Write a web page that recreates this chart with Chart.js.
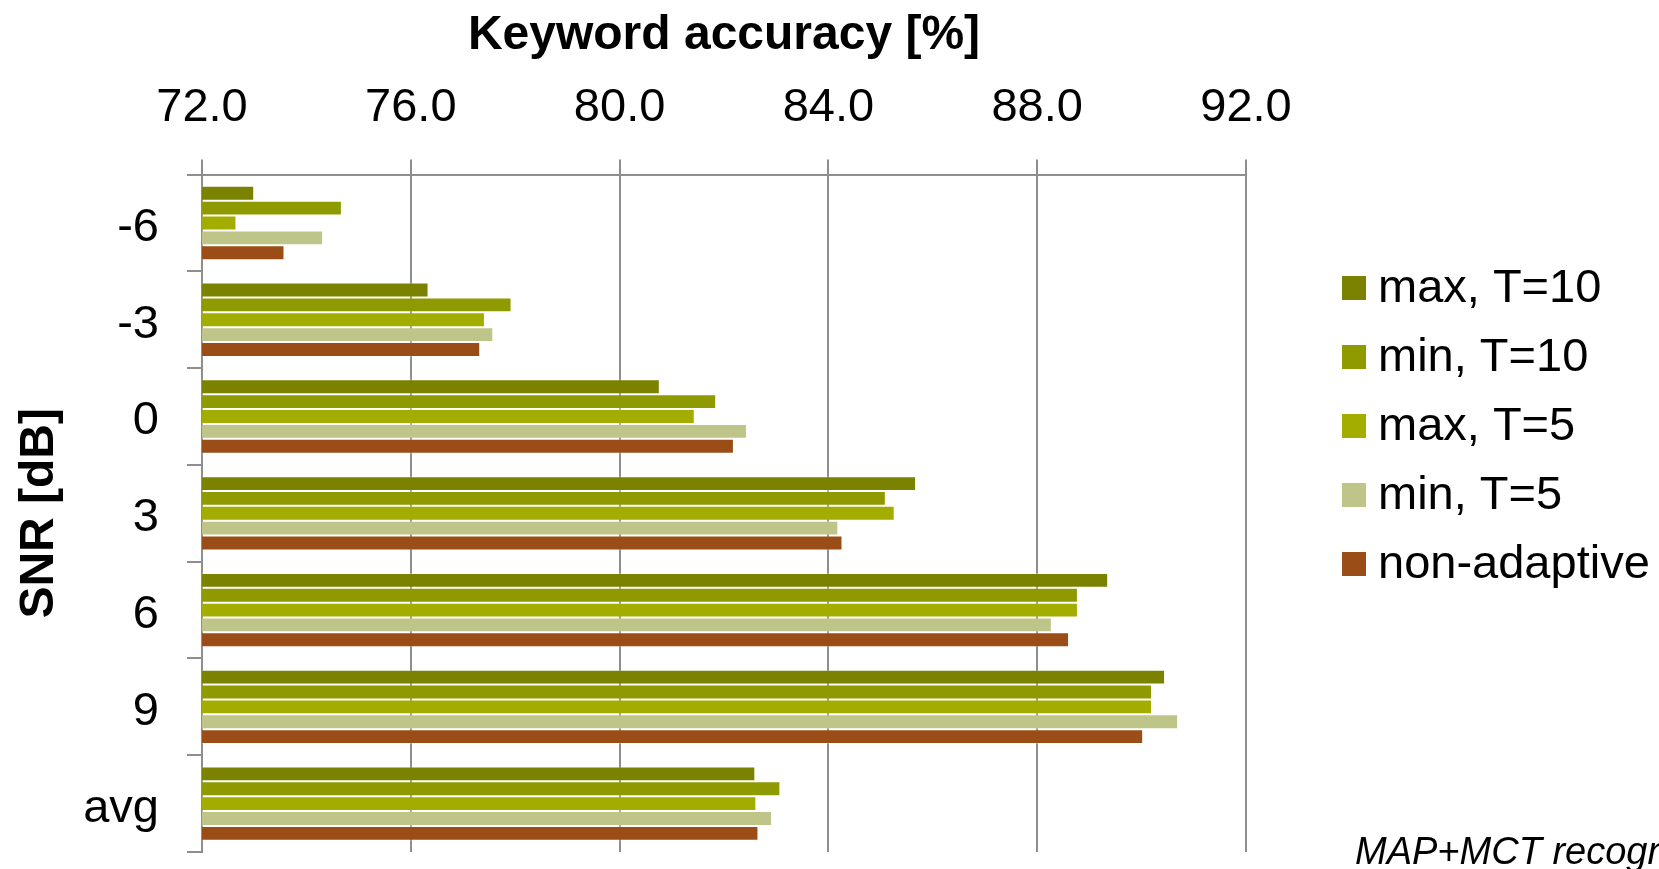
<!DOCTYPE html>
<html>
<head>
<meta charset="utf-8">
<title>Keyword accuracy</title>
<script src="https://cdn.jsdelivr.net/npm/chart.js@4.4.1/dist/chart.umd.min.js"></script>
<style>
  html, body { margin: 0; padding: 0; background: #fff; }
  #wrap { width: 1659px; height: 869px; position: relative; }
</style>
</head>
<body>
<div id="wrap"><canvas id="accChart"></canvas></div>
<script>
// SNR conditions (top to bottom)
var snrLabels = ['-6', '-3', '0', '3', '6', '9', 'avg'];

// keyword accuracy [%] per adaptation setting
var maxT10 = [73.0, 76.34, 80.77, 85.68, 89.36, 90.45, 82.60];
var minT10 = [74.68, 77.93, 81.85, 85.10, 88.78, 90.20, 83.08];
var maxT5 = [72.66, 77.42, 81.44, 85.27, 88.78, 90.20, 82.62];
var minT5 = [74.32, 77.58, 82.44, 84.19, 88.28, 90.70, 82.92];
var nonAdaptive = [73.58, 77.33, 82.19, 84.27, 88.61, 90.03, 82.66];

var seriesNames = ['max, T=10', 'min, T=10', 'max, T=5', 'min, T=5', 'non-adaptive'];
var seriesColors = ['#7a8200', '#8f9a00', '#a3ad00', '#bfc588', '#9a4d17'];
var seriesData = [maxT10, minT10, maxT5, minT5, nonAdaptive];

var axisMin = 72, axisMax = 92, axisStep = 4;

var FONT = '"Liberation Sans", Arial, sans-serif';
var GRID = '#8e8e8e';

// legend on the right plus the note in the bottom corner
var sideNotes = {
  id: 'sideNotes',
  afterDraw: function(chart) {
    var c = chart.ctx;
    c.save();
    c.font = '47px ' + FONT;
    c.textBaseline = 'middle';
    c.textAlign = 'left';
    chart.data.datasets.forEach(function(ds, i) {
      var top = 276 + i * 69;
      c.fillStyle = ds.backgroundColor;
      c.fillRect(1342, top, 24, 24);
      c.fillStyle = '#000';
      c.fillText(ds.label, 1378, top + 13);
    });
    c.font = 'italic 38px ' + FONT;
    c.textBaseline = 'alphabetic';
    c.fillText('MAP+MCT recognition', 1355, 864);
    c.restore();
  }
};

var ctx = document.getElementById('accChart').getContext('2d');

new Chart(ctx, {
  type: 'bar',
  data: {
    labels: snrLabels,
    datasets: seriesData.map(function(vals, i) {
      return {
        label: seriesNames[i],
        data: vals,
        backgroundColor: seriesColors[i],
        borderColor: 'rgba(255,255,255,0.3)',
        borderWidth: 1,
        categoryPercentage: 0.768,
        barPercentage: 1.0
      };
    })
  },
  options: {
    indexAxis: 'y',
    responsive: true,
    maintainAspectRatio: false,
    animation: false,
    layout: { padding: { right: 413, bottom: 17, top: 0, left: 0 } },
    plugins: {
      legend: { display: false },
      tooltip: { enabled: false }
    },
    scales: {
      x: {
        position: 'top',
        min: axisMin,
        max: axisMax,
        afterFit: function(s) { s.height = 174.6; },
        ticks: {
          stepSize: axisStep,
          padding: 23,
          color: '#000',
          font: { family: FONT, size: 47 },
          callback: function(v) { return Number(v).toFixed(1); }
        },
        grid: { color: GRID, lineWidth: 2, tickLength: 15 },
        border: { display: true, color: GRID, width: 2 },
        title: {
          display: true,
          text: 'Keyword accuracy [%]',
          color: '#000',
          font: { family: FONT, size: 48, weight: 'bold' },
          padding: { top: 7, bottom: 0 }
        }
      },
      y: {
        position: 'left',
        afterFit: function(s) {
          s.width = 202;
          // keep the label half-heights from shrinking the plot vertically
          s.paddingTop = 0;
          s.paddingBottom = 0;
        },
        ticks: {
          padding: 28,
          labelOffset: 5,
          color: '#000',
          font: { family: FONT, size: 47 }
        },
        grid: {
          offset: true,
          drawOnChartArea: false,
          color: GRID,
          lineWidth: 2,
          tickLength: 15
        },
        border: { display: true, color: GRID, width: 2 },
        title: {
          display: true,
          text: 'SNR [dB]',
          color: '#000',
          font: { family: FONT, size: 48, weight: 'bold' },
          padding: { top: 11, bottom: 0 }
        }
      }
    }
  },
  plugins: [sideNotes]
});
</script>
</body>
</html>
